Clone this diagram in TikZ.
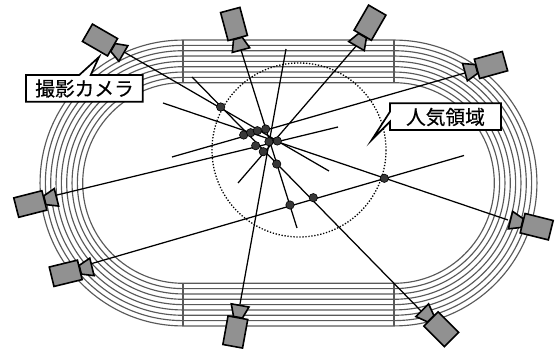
\documentclass[tikz,border=0pt]{standalone}
\usepackage{fontspec}
\newfontfamily\cjk[FakeBold=0.5]{Noto Sans CJK JP}

\begin{document}
\begin{tikzpicture}[x=1pt, y=-1pt]
    \useasboundingbox (0,0) rectangle (555,352);

    % Kiểu nét dùng chung
    \tikzset{
        c_track/.style={color=black!65, line width=1.15pt},
        c_ray/.style={color=black, line width=1.25pt},
        c_zone/.style={dash pattern=on 1.3pt off 1.7pt, color=black, line width=1.3pt},
        c_cam/.style={fill=black!43, draw=black, line width=1.6pt, line join=miter},
        c_dot/.style={fill=black!78, draw=black, line width=0.6pt},
        c_box/.style={fill=white, draw=black, line width=1.7pt, line join=miter},
        c_text/.style={font=\cjk\fontsize{19.7}{20}\selectfont, inner sep=0pt},
        pics/c_camera/.style={code={
            \draw[c_cam] (15,-4.5) -- (27,-9) -- (27,9) -- (15,4.5) -- cycle;
            \draw[c_cam] (-14.5,-10) rectangle (14.5,10);
        }}
    }

    % Đường chạy
    \foreach \i in {0,...,8} {
        \pgfmathsetmacro{\r}{100.3+5.33*\i}
        \draw[c_track] (183,183-\r) -- (394,183-\r)
            arc[start angle=-90, end angle=90, radius=\r]
            -- (183,183+\r)
            arc[start angle=90, end angle=270, radius=\r];
    }
    \draw[c_track] (183,40) -- (183,82.7);
    \draw[c_track] (183,283.3) -- (183,326);
    \draw[c_track] (394,40) -- (394,82.7);
    \draw[c_track] (394,283.3) -- (394,326);

    % Vùng được quan tâm
    \draw[c_zone] (299,150) circle (87);

    % Điểm đầu và điểm cuối các tia
    \foreach \n/\x/\y in {
        S1/124/52, E1/329/171,
        S2/241/50, E2/297/228,
        S3/357/45, E3/238/183,
        S4/465/73, E4/172/157,
        S5/92/263.5, E5/464/155.5,
        S6/508/220, E6/163/103,
        S7/422/312, E7/192/77,
        S8/57/195, E8/338/127,
        S9/240/304, E9/286/49} {
        \coordinate (\n) at (\x,\y);
    }
    \foreach \k in {1,...,9} {
        \draw[c_ray] (S\k) -- (E\k);
    }

    % Giao điểm
    \foreach \x/\y in {220.7/107, 243.7/135, 250.7/132.7, 257.3/130.7, 265.7/129,
        269/141.7, 277.3/141, 255.7/145.7, 263.3/151.7, 276.7/164,
        290/205, 313.3/197.7, 384.3/178.3} {
        \filldraw[c_dot] (\x,\y) circle (4.2);
    }

    % Các camera
    \pic[rotate=-30] at (100,40) {c_camera};
    \pic[rotate=-75] at (234,24) {c_camera};
    \pic[rotate=-120] at (370,22.7) {c_camera};
    \pic[rotate=-164.6] at (491,65) {c_camera};
    \pic[rotate=-194] at (536.7,226.7) {c_camera};
    \pic[rotate=-225] at (441.3,329.3) {c_camera};
    \pic[rotate=-280.3] at (235.3,332) {c_camera};
    \pic[rotate=14.3] at (30.3,204) {c_camera};
    \pic[rotate=13.7] at (65.7,273.3) {c_camera};

    % Nhãn
    \draw[c_box] (26,75) -- (79.3,75) -- (99,57) -- (90.7,75) -- (142.7,75)
        -- (142.7,101.7) -- (26,101.7) -- cycle;
    \node[c_text] (camera_label) at (84.5,88.5) {撮影カメラ};
    \draw[c_box] (390,103.3) -- (501,103.3) -- (501,130) -- (390,130)
        -- (390,121.7) -- (371.7,140) -- (390,111.7) -- cycle;
    \node[c_text] (zone_label) at (445.5,117) {人気領域};
\end{tikzpicture}
\end{document}
